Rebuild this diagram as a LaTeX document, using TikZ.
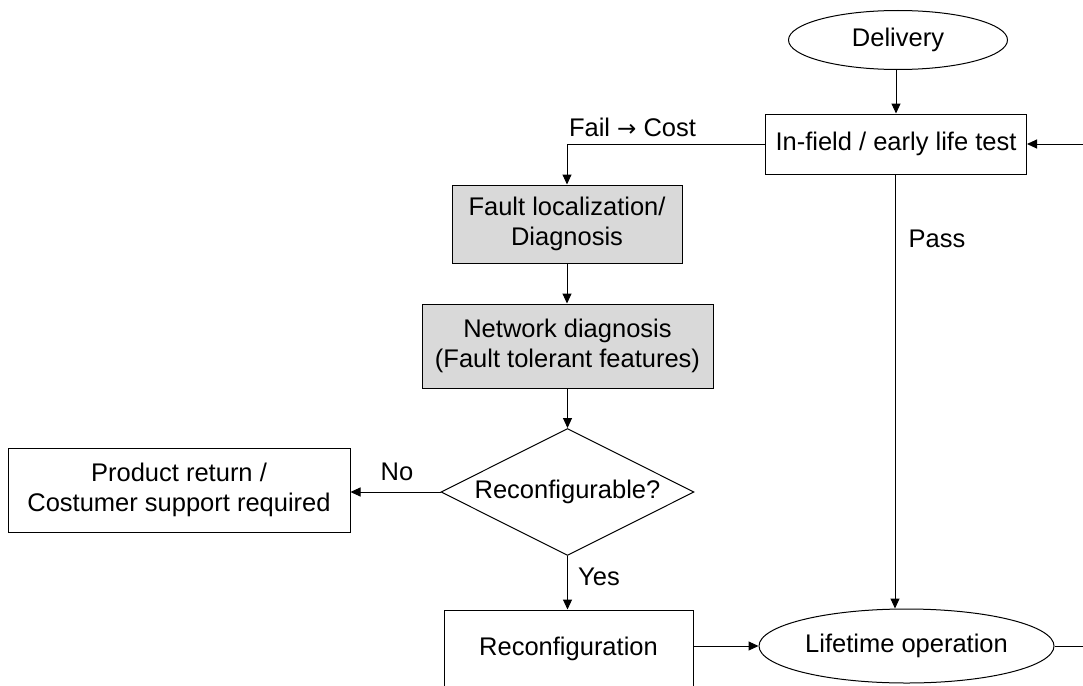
\documentclass[tikz,border=0pt]{standalone}
\usepackage{fontspec}
\setmainfont{Liberation Sans}
\newfontfamily\arrowfont{DejaVu Sans}
\usetikzlibrary{arrows.meta,shapes.geometric}
\begin{document}
\begin{tikzpicture}[x=1pt,y=-1pt,
  font=\fontsize{25.5}{30.5}\selectfont,
  line width=1pt,
  arr/.style={-{Triangle[length=10pt,width=9pt]}},
  box/.style={draw,rectangle,inner sep=0pt,align=center},
  graybox/.style={box,fill=black!15},
  oval/.style={draw,ellipse,inner sep=0pt,align=center},
  decision/.style={draw,diamond,shape aspect=2,inner sep=0pt,align=center},
  lbl/.style={inner sep=0pt,anchor=center}]
  \clip (0,0) rectangle (1083,685);

  % nodes
  \node[oval,minimum width=219pt,minimum height=59pt] (delivery) at (898,40) {Delivery};
  \node[box,minimum width=261pt,minimum height=60pt] (infield) at (896,144) {In-field / early life test};
  \node[graybox,minimum width=230pt,minimum height=78pt] (fault) at (567,224) {Fault localization/\\Diagnosis};
  \node[graybox,minimum width=291pt,minimum height=84pt] (network) at (567.5,346) {Network diagnosis\\(Fault tolerant features)};
  \node[decision,minimum width=253pt,minimum height=127pt] (reconfq) at (567.5,492) {Reconfigurable?};
  \node[box,minimum width=342pt,minimum height=84pt] (product) at (179,490) {Product return /\\Costumer support required};
  \node[box,minimum width=249pt,minimum height=78pt] (reconf) at (568.5,649) {Reconfiguration};
  \node[oval,minimum width=295pt,minimum height=74pt] (lifetime) at (906.5,646) {Lifetime operation};

  % loop ends leaving the frame on the right
  \coordinate (loopin) at (1090,144);
  \coordinate (loopout) at (1090,646);

  % labels
  \node[lbl] (faillbl) at (632.5,127) {Fail {\arrowfont\fontsize{23}{28}\selectfont →} Cost};
  \node[lbl] (passlbl) at (937,239) {Pass};
  \node[lbl] (nolbl) at (397,472) {No};
  \node[lbl] (yeslbl) at (599,577) {Yes};

  % connectors
  \draw[arr] (delivery.south -| infield.north) -- (infield.north);
  \draw[arr] (loopin) -- (infield.east);
  \draw[arr] (infield.west) -| (fault.north);
  \draw[arr] ([xshift=-1pt]infield.south) -- ([xshift=-1pt]infield.south |- lifetime.north);
  \draw[arr] (fault.south) -- (network.north -| fault.south);
  \draw[arr] (network.south) -- (reconfq.north);
  \draw[arr] (reconfq.west) -- (product.east |- reconfq.west);
  \draw[arr] (reconfq.south) -- (reconf.north -| reconfq.south);
  \draw[arr] (reconf.east |- lifetime.west) -- (lifetime.west);
  \draw (lifetime.east) -- (loopout);
\end{tikzpicture}
\end{document}
